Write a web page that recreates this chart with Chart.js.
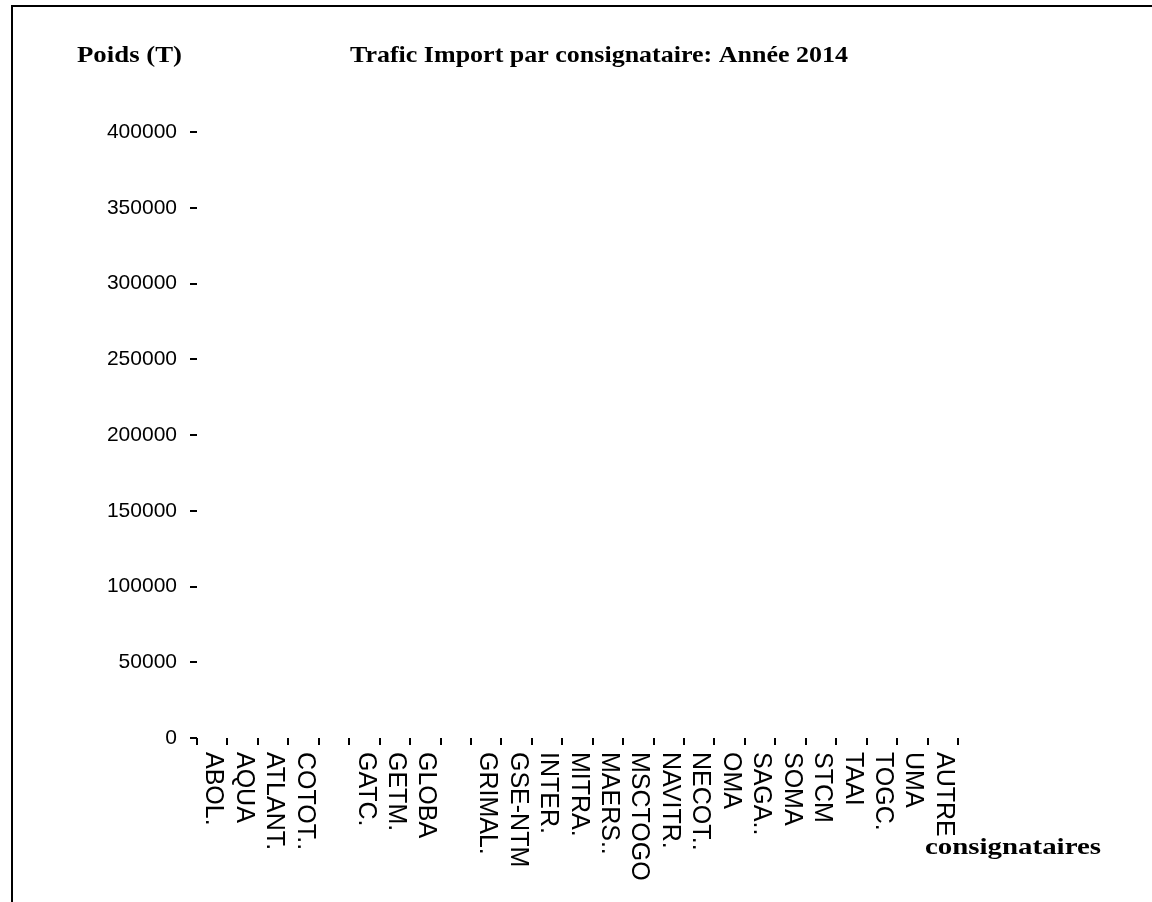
<!DOCTYPE html>
<html>
<head>
<meta charset="utf-8">
<title>Trafic Import par consignataire</title>
<script src="https://cdn.jsdelivr.net/npm/chart.js@4.4.1/dist/chart.umd.min.js"></script>
<style>
  html, body { margin: 0; padding: 0; background: #fff; }
  #ct-chart { display: block; }
</style>
</head>
<body>
<canvas id="ct-chart" width="1152" height="902"></canvas>
<script>
// consignataires (labels as shown, two empty slots kept)
var consignataires = [
  "ABOL.", "AQUA", "ATLANT.", "COTOT..", "",
  "GATC.", "GETM.", "GLOBA", "",
  "GRIMAL.", "GSE-NTM", "INTER.", "MITRA.", "MAERS..", "MSCTOGO",
  "NAVITR.", "NECOT..", "OMA", "SAGA..", "SOMA", "STCM",
  "TAAI", "TOGC.", "UMA", "AUTRE"
];
// no bar is visible in the picture
var poidsImport = [
  0, 0, 0, 0, 0,
  0, 0, 0, 0,
  0, 0, 0, 0, 0, 0,
  0, 0, 0, 0, 0, 0,
  0, 0, 0, 0
];
var yMin = 0,
  yMax = 400000,
  yStep = 50000;

var titleText = "Trafic Import par consignataire: Année 2014",
  yTitle = "Poids (T)",
  xTitle = "consignataires";

const serifBold = 'bold 24px "Liberation Serif", "Times New Roman", serif';
const sansFont = '"Liberation Sans", Arial, sans-serif';

// the original renderer spreads its serif text a bit wider
drawWideText = (ctx, text, x, y, width) => {
  let w = ctx.measureText(text).width;
  ctx.save();
  ctx.translate(x, y);
  ctx.scale(width / w, 1);
  ctx.fillText(text, 0, 0);
  ctx.restore();
};

// frame, titles and the rotated category labels
const decorPlugin = {
  id: "decor",
  afterDraw: (chart) => {
    const ctx = chart.ctx;
    const xScale = chart.scales.x;
    ctx.save();

    ctx.strokeStyle = "#000";
    ctx.lineWidth = 2;
    ctx.beginPath();
    ctx.moveTo(12, 902);
    ctx.lineTo(12, 6);
    ctx.lineTo(1152, 6);
    ctx.stroke();

    ctx.fillStyle = "#000";
    ctx.font = serifBold;
    ctx.textBaseline = "alphabetic";
    ctx.textAlign = "left";
    drawWideText(ctx, yTitle, 77, 62, 105);
    drawWideText(ctx, titleText, 350, 62, 498);
    drawWideText(ctx, xTitle, 925, 854, 176);

    ctx.font = "25px " + sansFont;
    ctx.textAlign = "left";
    ctx.textBaseline = "middle";
    consignataires.forEach((label, i) => {
      if (!label) return;
      let x = xScale.getPixelForValue(i);
      ctx.save();
      ctx.translate(x + 1, xScale.top + 14);
      ctx.rotate(Math.PI / 2);
      ctx.fillText(label, 0, 0);
      ctx.restore();
    });

    ctx.restore();
  },
};

const ctChart = new Chart(document.getElementById("ct-chart"), {
  type: "bar",
  data: {
    labels: consignataires,
    datasets: [
      {
        label: "Trafic Import",
        data: poidsImport,
        backgroundColor: "#000080",
        borderWidth: 0,
      },
    ],
  },
  options: {
    responsive: false,
    animation: false,
    devicePixelRatio: 1,
    layout: {
      padding: { top: 132, right: 194, bottom: 0, left: 0 },
    },
    plugins: {
      legend: { display: false },
      tooltip: { enabled: false },
      title: { display: false },
    },
    scales: {
      x: {
        offset: true,
        border: { display: false },
        grid: {
          offset: true,
          drawOnChartArea: false,
          drawTicks: true,
          tickLength: 7,
          color: "#000",
          lineWidth: 2,
        },
        ticks: { display: false },
        afterFit: (scale) => {
          scale.height = 164;
        },
      },
      y: {
        min: yMin,
        max: yMax,
        border: { display: false },
        grid: {
          drawOnChartArea: false,
          drawTicks: true,
          tickLength: 7,
          color: "#000",
          lineWidth: 2,
        },
        ticks: {
          stepSize: yStep,
          padding: 13,
          color: "#000",
          font: { family: sansFont, size: 21 },
          callback: (value) => String(value),
        },
        afterFit: (scale) => {
          scale.width = 197;
        },
      },
    },
  },
  plugins: [decorPlugin],
});
</script>
</body>
</html>
